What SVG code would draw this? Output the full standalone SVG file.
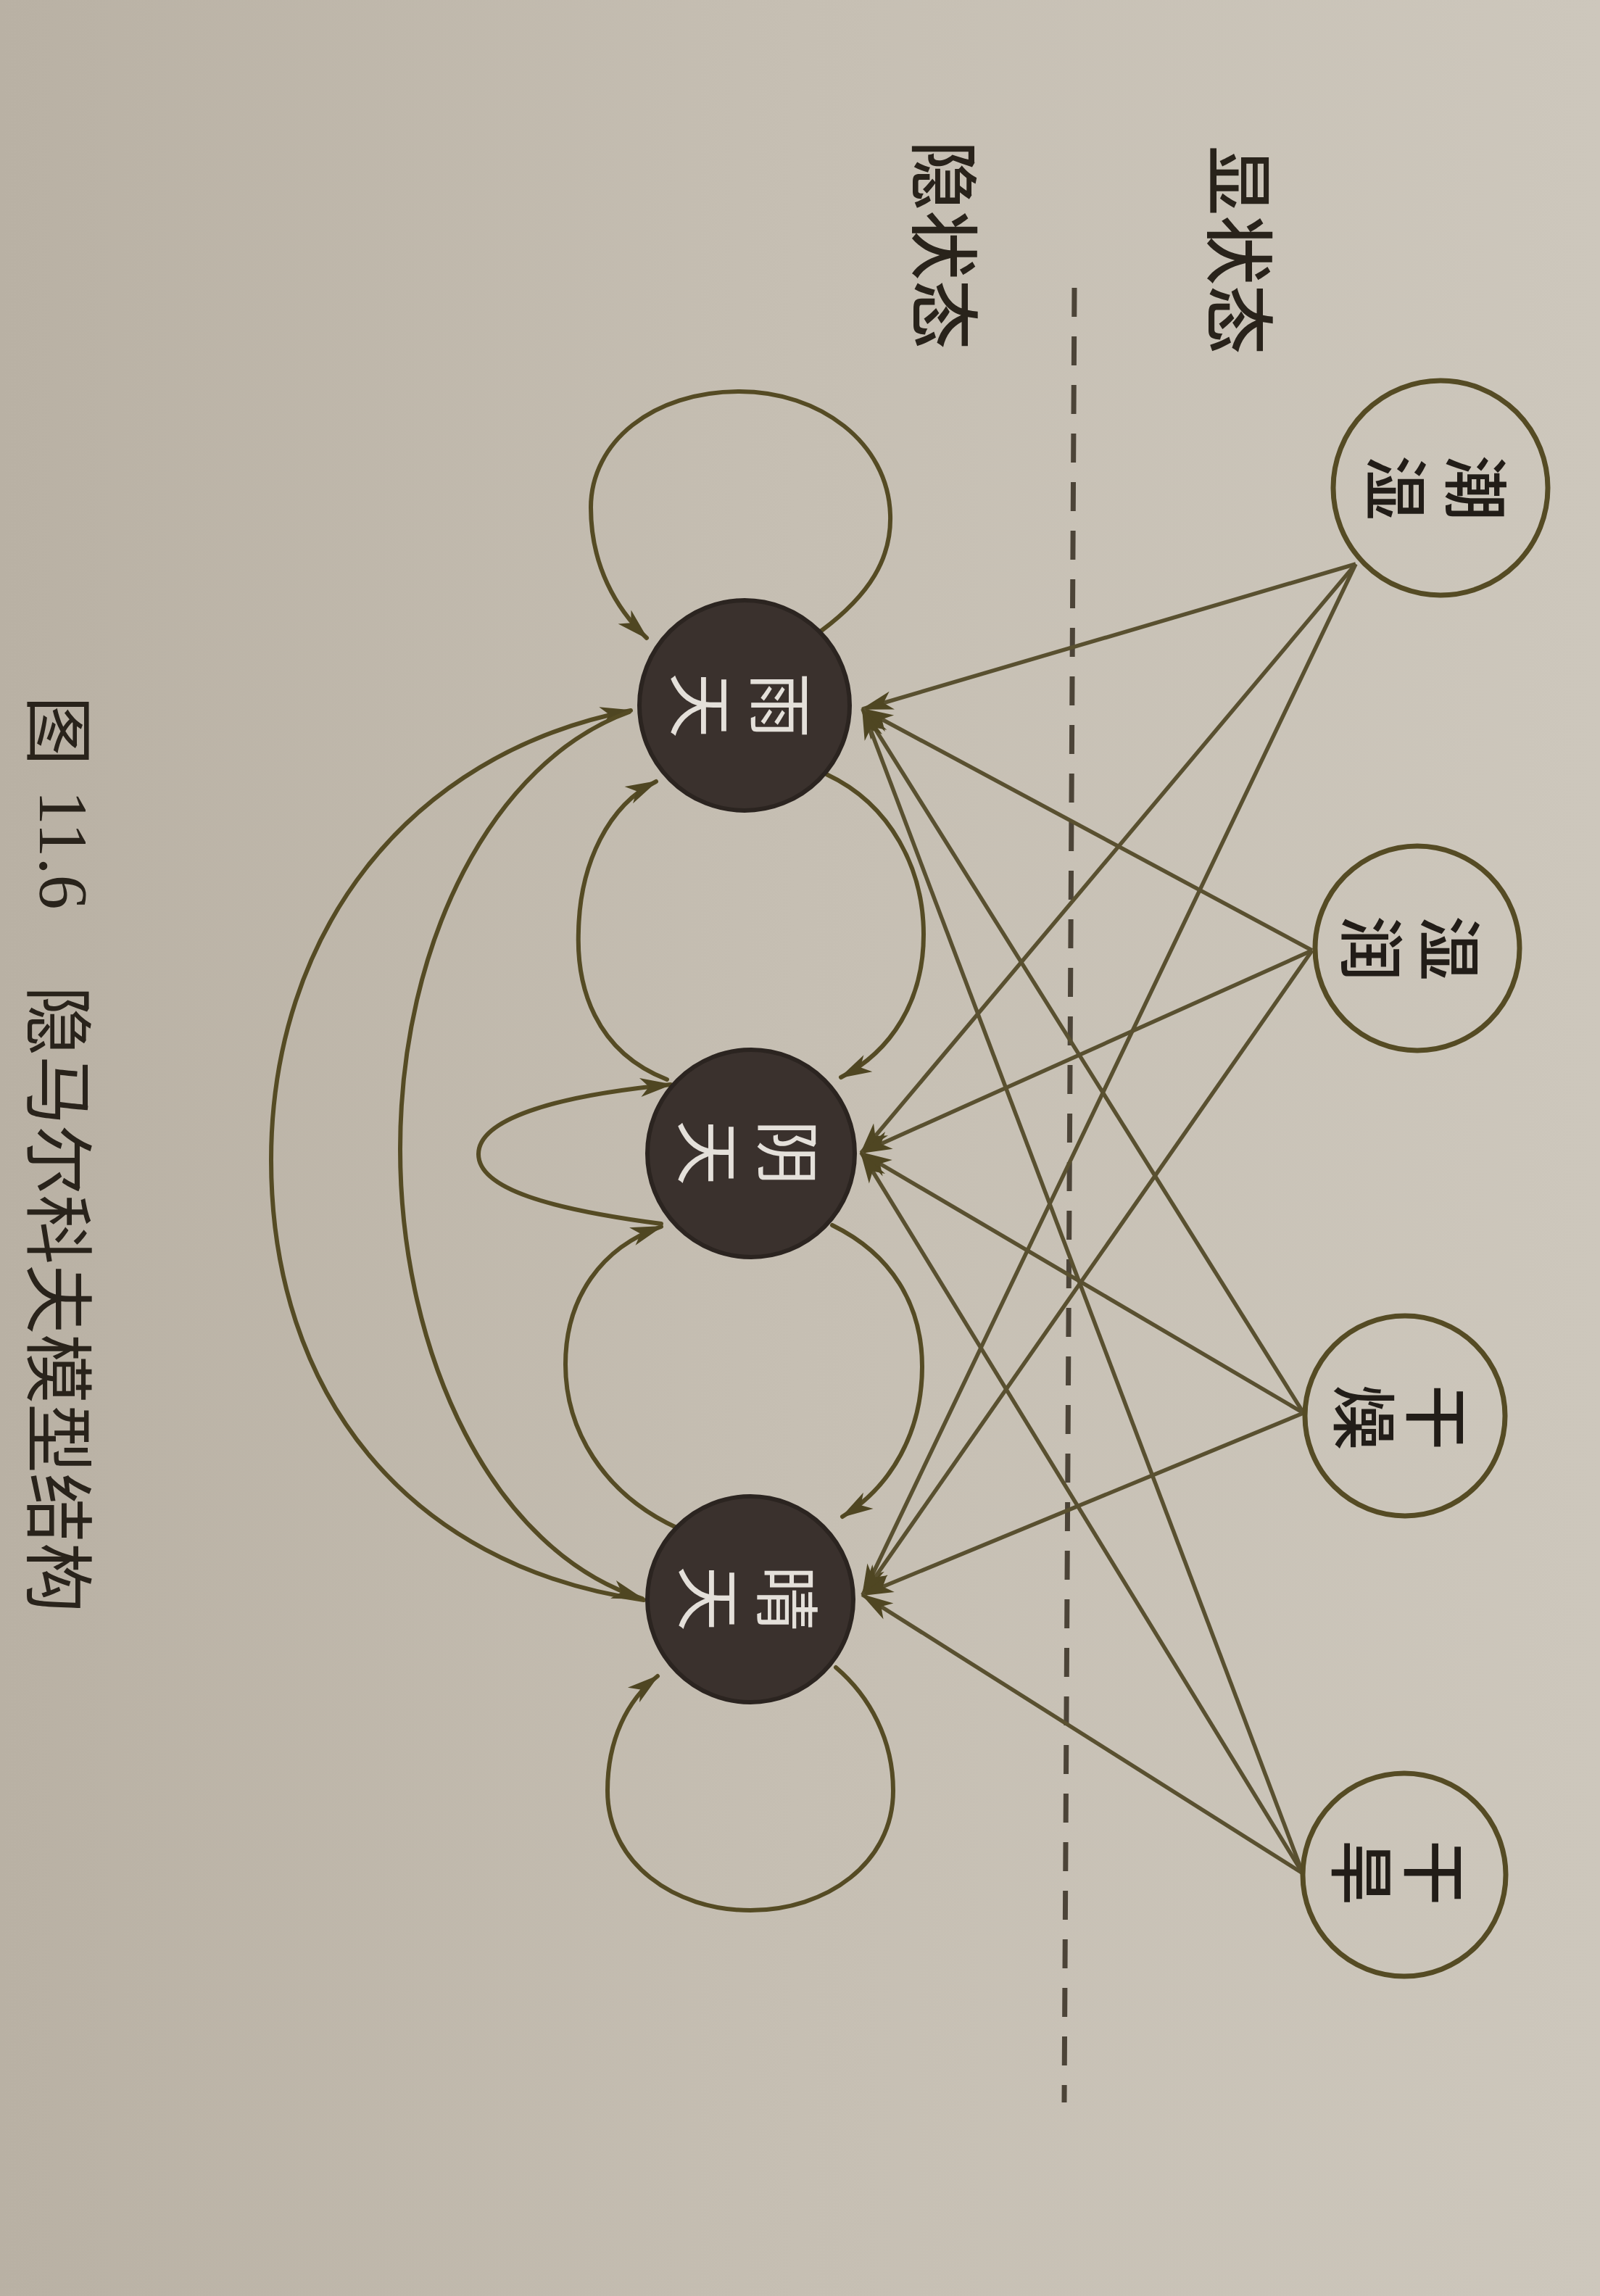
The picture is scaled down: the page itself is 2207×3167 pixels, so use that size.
<svg xmlns="http://www.w3.org/2000/svg" width="2207" height="3167" viewBox="0 0 2207 3167">
<defs>
<linearGradient id="bg" x1="0" y1="0" x2="1" y2="0">
<stop offset="0" stop-color="#b9b1a4"/>
<stop offset="0.5" stop-color="#c6bfb3"/>
<stop offset="1" stop-color="#cdc7bc"/>
</linearGradient>
<marker id="ah" viewBox="-46 -15 50 30" refX="0" refY="0" markerWidth="50" markerHeight="30" markerUnits="userSpaceOnUse" orient="auto">
<path d="M3 0 L-42 -13 L-30 0 L-42 13 Z" fill="#4f4622"/>
</marker>
<style>
.edge{fill:none;stroke:#554b24;stroke-width:6;stroke-linecap:round}
.em{fill:none;stroke:#595030;stroke-width:5.5}
.obs{fill:none;stroke:#554b24;stroke-width:7}
.hid{fill:#3a312d;stroke:#2b2420;stroke-width:6}
.t{font-family:"Noto Sans CJK SC","Noto Sans CJK TC",sans-serif;text-anchor:middle;dominant-baseline:central}
.tobs{fill:#221d18;font-size:90px;font-weight:500}
.thid{fill:#e4e0da;font-size:90px}
.lab{fill:#29231b;font-size:96px;font-weight:500}
.cap{font-family:"Noto Sans CJK SC",sans-serif;fill:#29231b;font-size:96px;dominant-baseline:central}
</style>
</defs>
<rect x="0" y="0" width="2207" height="3167" fill="url(#bg)"/>

<g id="labels">
<text class="t lab" transform="translate(1715 345) rotate(90)">显状态</text>
<text class="t lab" transform="translate(1308 338) rotate(90)">隐状态</text>
</g>

<g id="divider">
<line x1="1482" y1="397" x2="1468" y2="2900" stroke="#4c4438" stroke-width="7" stroke-dasharray="40 27"/>
</g>

<g id="connectors">
<!-- self loops -->
<path class="edge" marker-end="url(#ah)" d="M1133 870 C1200 820 1230 770 1228 710 C1225 610 1130 540 1020 540 C900 540 815 610 815 700 C815 780 850 840 892 880"/>
<path class="edge" marker-end="url(#ah)" d="M912 1688 C760 1668 660 1640 660 1592 C660 1545 760 1512 925 1496"/>
<path class="edge" marker-end="url(#ah)" d="M1153 2300 C1200 2340 1232 2400 1232 2470 C1232 2570 1140 2635 1035 2635 C930 2635 838 2570 838 2470 C838 2400 865 2345 907 2312"/>
<!-- neighbour transitions -->
<path class="edge" marker-end="url(#ah)" d="M920 1489 C820 1450 795 1360 798 1284 C800 1190 840 1110 905 1078"/>
<path class="edge" marker-end="url(#ah)" d="M935 2108 C830 2060 780 1970 780 1882 C780 1790 830 1720 912 1692"/>
<path class="edge" marker-end="url(#ah)" d="M1140 1068 C1230 1110 1274 1200 1274 1289 C1274 1380 1230 1450 1160 1486"/>
<path class="edge" marker-end="url(#ah)" d="M1148 1690 C1230 1730 1272 1800 1272 1885 C1272 1975 1230 2050 1162 2092"/>
<!-- long transitions -->
<path class="edge" marker-end="url(#ah)" d="M888 2207 C560 2160 374 1920 374 1600 C374 1290 560 1040 870 980"/>
<path class="edge" marker-end="url(#ah)" d="M868 982 C680 1050 552 1300 552 1585 C552 1870 680 2140 886 2205"/>
<!-- emissions -->
<line class="em" marker-end="url(#ah)" x1="1870" y1="778" x2="1190" y2="978"/>
<line class="em" marker-end="url(#ah)" x1="1870" y1="778" x2="1188" y2="1590"/>
<line class="em" marker-end="url(#ah)" x1="1870" y1="778" x2="1190" y2="2200"/>
<line class="em" marker-end="url(#ah)" x1="1810" y1="1311" x2="1190" y2="978"/>
<line class="em" marker-end="url(#ah)" x1="1810" y1="1311" x2="1188" y2="1590"/>
<line class="em" marker-end="url(#ah)" x1="1810" y1="1311" x2="1190" y2="2200"/>
<line class="em" marker-end="url(#ah)" x1="1798" y1="1949" x2="1190" y2="978"/>
<line class="em" marker-end="url(#ah)" x1="1798" y1="1949" x2="1188" y2="1590"/>
<line class="em" marker-end="url(#ah)" x1="1798" y1="1949" x2="1190" y2="2200"/>
<line class="em" marker-end="url(#ah)" x1="1797" y1="2584" x2="1190" y2="978"/>
<line class="em" marker-end="url(#ah)" x1="1797" y1="2584" x2="1188" y2="1590"/>
<line class="em" marker-end="url(#ah)" x1="1797" y1="2584" x2="1190" y2="2200"/>
</g>

<g id="node-chaoshi">
<circle class="obs" cx="1987" cy="673" r="148"/>
<text class="t tobs" transform="translate(1986 673) rotate(90)"><tspan x="0" y="-55">潮</tspan><tspan x="0" y="55">湿</tspan></text>
</g>
<g id="node-shirun">
<circle class="obs" cx="1955" cy="1308" r="141"/>
<text class="t tobs" transform="translate(1951 1308) rotate(90)"><tspan x="0" y="-54">湿</tspan><tspan x="0" y="54">润</tspan></text>
</g>
<g id="node-ganzao">
<circle class="obs" cx="1938" cy="1953" r="138"/>
<text class="t tobs" transform="translate(1937 1955) rotate(90)"><tspan x="0" y="-50">干</tspan><tspan x="0" y="50">燥</tspan></text>
</g>
<g id="node-ganhan">
<circle class="obs" cx="1937" cy="2586" r="140"/>
<text class="t tobs" transform="translate(1934 2583) rotate(90)"><tspan x="0" y="-50">干</tspan><tspan x="0" y="50">旱</tspan></text>
</g>

<g id="node-yutian">
<circle class="hid" cx="1027" cy="973" r="145"/>
<text class="t thid" transform="translate(1027 973) rotate(90)"><tspan x="0" y="-55">雨</tspan><tspan x="0" y="55">天</tspan></text>
</g>
<g id="node-yintian">
<circle class="hid" cx="1036" cy="1591" r="143"/>
<text class="t thid" transform="translate(1037 1590) rotate(90)"><tspan x="0" y="-55">阴</tspan><tspan x="0" y="55">天</tspan></text>
</g>
<g id="node-qingtian">
<circle class="hid" cx="1035" cy="2206" r="142"/>
<text class="t thid" transform="translate(1037 2205) rotate(90)"><tspan x="0" y="-54">晴</tspan><tspan x="0" y="54">天</tspan></text>
</g>

<g id="caption">
<text class="cap" transform="translate(88 0) rotate(90)"><tspan x="960">图</tspan><tspan x="1090" font-family="Liberation Serif">11.6</tspan><tspan x="1360">隐马尔科夫模型结构</tspan></text>
</g>
</svg>
